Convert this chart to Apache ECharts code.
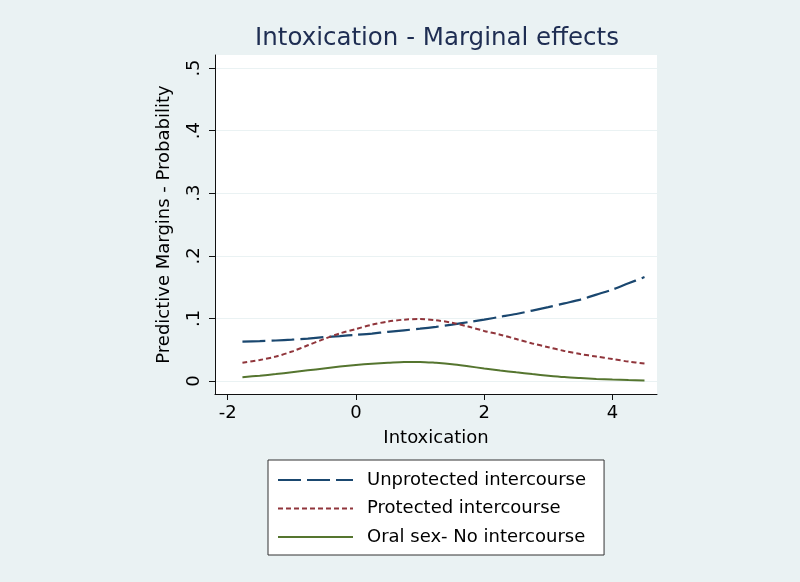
<!DOCTYPE html>
<html>
<head>
<meta charset="utf-8">
<script src="https://cdn.jsdelivr.net/npm/echarts@6/dist/echarts.min.js"></script>
<style>
html,body{margin:0;padding:0;background:#eaf2f3;}
#c{width:800px;height:582px;}
</style>
</head>
<body>
<div id="c"></div>
<script>
const titleText = 'Intoxication - Marginal effects';
const xName = 'Intoxication';
const yName = 'Predictive Margins - Probability';
const xTicks = [-2, 0, 2, 4];
const yTicks = [0, 0.1, 0.2, 0.3, 0.4, 0.5];
const xs = [-1.77, -1.5, -1.25, -1, -0.75, -0.5, -0.25, 0, 0.25, 0.5, 0.75, 1, 1.25, 1.5, 1.75, 2, 2.25, 2.5, 2.75, 3, 3.25, 3.5, 3.75, 4, 4.25, 4.5];
const unprotected = [0.063, 0.0637, 0.0647, 0.066, 0.0678, 0.070, 0.0718, 0.0737, 0.0758, 0.0785, 0.081, 0.0835, 0.0865, 0.090, 0.094, 0.098, 0.1025, 0.107, 0.1125, 0.118, 0.124, 0.130, 0.138, 0.146, 0.156, 0.166];
const protectedSex = [0.029, 0.0335, 0.039, 0.047, 0.057, 0.067, 0.076, 0.083, 0.090, 0.095, 0.098, 0.099, 0.097, 0.093, 0.087, 0.080, 0.074, 0.067, 0.060, 0.054, 0.048, 0.043, 0.039, 0.035, 0.031, 0.028];
const oralSex = [0.006, 0.0085, 0.011, 0.014, 0.017, 0.020, 0.023, 0.0255, 0.0275, 0.029, 0.0305, 0.0305, 0.029, 0.0268, 0.0235, 0.020, 0.0168, 0.0138, 0.011, 0.0085, 0.0063, 0.0047, 0.0033, 0.0022, 0.0014, 0.0008];
const seriesNames = ['Unprotected intercourse', 'Protected intercourse', 'Oral sex- No intercourse'];

const FONT = 'DejaVu Sans';
const pairs = arr => xs.map((x, i) => [x, arr[i]]);

const chart = echarts.init(document.getElementById('c'), null, {renderer: 'canvas'});
chart.setOption({
  backgroundColor: '#eaf2f3',
  animation: false,
  title: {
    text: titleText,
    left: 432, top: 21, textAlign: 'center',
    textStyle: {fontFamily: FONT, fontSize: 24.5, fontWeight: 'normal', color: '#1e2d52'}
  },
  grid: {
    left: 215, top: 55, width: 442, height: 339,
    show: true, backgroundColor: '#ffffff', borderWidth: 0
  },
  xAxis: {
    type: 'value', min: -2.198, max: 4.695,
    name: xName, nameLocation: 'middle', nameGap: 35,
    nameTextStyle: {fontFamily: FONT, fontSize: 18, color: '#000'},
    axisLine: {show: true, onZero: false, lineStyle: {color: '#111', width: 1}},
    axisTick: {show: true, length: 6, customValues: xTicks, lineStyle: {color: '#111'}},
    axisLabel: {customValues: xTicks, margin: 10, fontFamily: FONT, fontSize: 18, color: '#000'},
    splitLine: {show: false}
  },
  yAxis: {
    type: 'value', min: -0.0208, max: 0.5208,
    name: yName, nameLocation: 'middle', nameGap: 42, nameRotate: 90,
    nameTextStyle: {fontFamily: FONT, fontSize: 18, color: '#000'},
    axisLine: {show: true, onZero: false, lineStyle: {color: '#111', width: 1}},
    axisTick: {show: true, length: 6, customValues: yTicks, lineStyle: {color: '#111'}},
    axisLabel: {
      customValues: yTicks, rotate: 90, margin: 12,
      fontFamily: FONT, fontSize: 18, color: '#000',
      formatter: v => v === 0 ? '0' : v.toFixed(1).replace(/^0/, '')
    },
    splitLine: {show: true, lineStyle: {color: '#eaf2f3', width: 1}}
  },
  legend: {
    left: 268, top: 460, orient: 'vertical',
    backgroundColor: '#ffffff', borderColor: '#333', borderWidth: 1,
    padding: [11, 18, 9, 9],
    itemWidth: 75, itemHeight: 20, itemGap: 10.5,
    itemStyle: {opacity: 0},
    textStyle: {fontFamily: FONT, fontSize: 18, color: '#000', padding: [0, 0, 0, 9]},
    data: seriesNames
  },
  series: [
    {
      name: seriesNames[0], type: 'line', data: pairs(unprotected), smooth: 0.3,
      symbol: 'none', lineStyle: {color: '#1a476f', width: 2.2, type: [23, 6]},
      itemStyle: {color: '#1a476f'}
    },
    {
      name: seriesNames[1], type: 'line', data: pairs(protectedSex), smooth: 0.3,
      symbol: 'none', lineStyle: {color: '#90353b', width: 2, type: [5, 3]},
      itemStyle: {color: '#90353b'}
    },
    {
      name: seriesNames[2], type: 'line', data: pairs(oralSex), smooth: 0.3,
      symbol: 'none', lineStyle: {color: '#55752f', width: 2},
      itemStyle: {color: '#55752f'}
    }
  ]
});
</script>
</body>
</html>
